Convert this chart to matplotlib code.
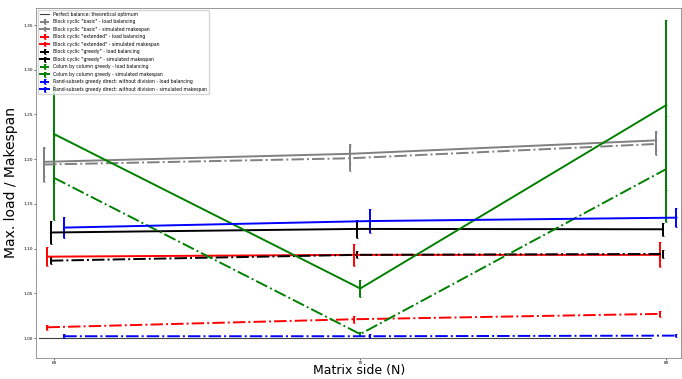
import matplotlib
matplotlib.use("Agg")
import matplotlib.pyplot as plt
import numpy as np

# Matrix sizes evaluated
sizes = [60, 70, 80]

# Reference line: perfect balance
balance_x = [59.5, 79.5]
balance_y = [1.0, 1.0]

# Block cyclic "basic"
basic_lb = [1.194, 1.201, 1.217]
basic_lb_err = [0.020, 0.014, 0.012]
basic_ms = [1.197, 1.206, 1.221]
basic_ms_err = [0.016, 0.011, 0.011]

# Block cyclic "extended"
extended_lb = [1.012, 1.021, 1.027]
extended_lb_err = [0.003, 0.004, 0.003]
extended_ms = [1.091, 1.093, 1.093]
extended_ms_err = [0.011, 0.012, 0.014]

# Block cyclic "greedy"
greedy_lb = [1.0865, 1.093, 1.094]
greedy_lb_err = [0.004, 0.004, 0.004]
greedy_ms = [1.118, 1.122, 1.1216]
greedy_ms_err = [0.0125, 0.0105, 0.0075]

# Column by column greedy
column_lb = [1.179, 1.0044, 1.189]
column_lb_err = [0.047, 0.002, 0.059]
column_ms = [1.228, 1.0554, 1.2605]
column_ms_err = [0.055, 0.009, 0.095]

# Rand-subsets greedy direct
rand_lb = [1.002, 1.002, 1.0027]
rand_lb_err = [0.002, 0.002, 0.002]
rand_ms = [1.1235, 1.1308, 1.1346]
rand_ms_err = [0.012, 0.013, 0.011]

series = [
    ('Block cyclic "basic"', 'gray', -0.33, basic_lb, basic_lb_err, basic_ms, basic_ms_err),
    ('Block cyclic "extended"', 'red', -0.22, extended_lb, extended_lb_err, extended_ms, extended_ms_err),
    ('Block cyclic "greedy"', 'black', -0.11, greedy_lb, greedy_lb_err, greedy_ms, greedy_ms_err),
    ('Colum by column greedy', 'green', 0.0, column_lb, column_lb_err, column_ms, column_ms_err),
    ('Rand-subsets greedy direct: without division', 'blue', 0.33, rand_lb, rand_lb_err, rand_ms, rand_ms_err),
]

fig = plt.figure(figsize=(6.82, 3.79), dpi=100)
ax = fig.add_axes([0.053, 0.055, 0.946, 0.925])

ax.plot(balance_x, balance_y, color='#404040', lw=0.8,
        label='Perfect balance: theoretical optimum')

lw = 1.4
for name, color, off, lb, lb_err, ms, ms_err in series:
    x = np.array(sizes) + off
    ax.errorbar(x, lb, yerr=lb_err, color=color, ls='-.', lw=lw,
                elinewidth=lw, capsize=0.7, capthick=0.6,
                label=f'{name} - load balancing')
    ax.errorbar(x, ms, yerr=ms_err, color=color, ls='-', lw=lw,
                elinewidth=lw, capsize=0.7, capthick=0.6,
                label=f'{name} - simulated makespan')

ax.set_xlim(59.41, 80.49)
ax.set_ylim(0.9775, 1.3695)
ax.set_xticks(sizes)
ax.set_yticks(np.arange(1.0, 1.351, 0.05))
ax.yaxis.set_major_formatter(matplotlib.ticker.FormatStrFormatter('%.2f'))
ax.tick_params(labelsize=3.1, length=1.2, width=0.4, pad=1.0)
for s in ax.spines.values():
    s.set_linewidth(0.6)
    s.set_color('#888888')

ax.set_xlabel('Matrix side (N)', fontsize=9.0, labelpad=-0.8)
ax.set_ylabel('Max. load / Makespan', fontsize=10, labelpad=4)

ax.legend(loc='upper left', fontsize=3.3, borderpad=0.4, labelspacing=0.55,
          handlelength=2.0, framealpha=0.8)

fig.savefig('out.png', dpi=100)
